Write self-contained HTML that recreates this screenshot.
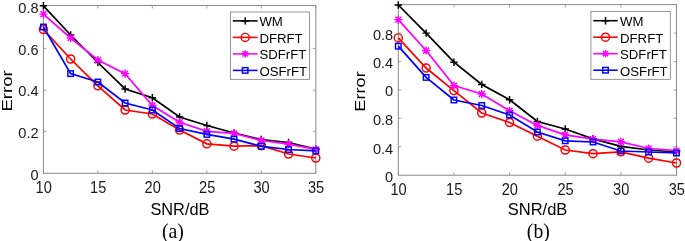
<!DOCTYPE html>
<html><head><meta charset="utf-8"><style>
html,body{margin:0;padding:0;background:#fff;}
body{width:685px;height:241px;overflow:hidden;}
svg{display:block;filter:blur(0.35px);}
.tk{font-family:"Liberation Sans", sans-serif;font-size:15.3px;fill:#1a1a1a;}
.tx{font-size:15.8px;}
.lg{font-family:"Liberation Sans", sans-serif;font-size:13.7px;fill:#000;}
.xl{font-family:"Liberation Sans", sans-serif;font-size:15px;fill:#000;}
.cap{font-family:"Liberation Serif", serif;font-size:19.8px;fill:#000;}
</style></head><body>
<svg width="685" height="241" viewBox="0 0 685 241">
<rect x="43.40" y="5.50" width="272.40" height="167.80" fill="none" stroke="#8a8a8a" stroke-width="1"/>
<path d="M43.40 173.30V170.40M43.40 5.50V8.40M97.88 173.30V170.40M97.88 5.50V8.40M152.36 173.30V170.40M152.36 5.50V8.40M206.84 173.30V170.40M206.84 5.50V8.40M261.32 173.30V170.40M261.32 5.50V8.40M315.80 173.30V170.40M315.80 5.50V8.40M43.40 48.40H46.30M315.80 48.40H312.90M43.40 90.20H46.30M315.80 90.20H312.90M43.40 131.60H46.30M315.80 131.60H312.90" stroke="#8a8a8a" stroke-width="0.8" fill="none"/>
<text x="38.60" y="13.30" text-anchor="end" class="tk" textLength="20.29" lengthAdjust="spacingAndGlyphs">0.8</text>
<text x="38.60" y="54.80" text-anchor="end" class="tk" textLength="20.29" lengthAdjust="spacingAndGlyphs">0.6</text>
<text x="38.60" y="96.30" text-anchor="end" class="tk" textLength="20.29" lengthAdjust="spacingAndGlyphs">0.4</text>
<text x="38.60" y="137.80" text-anchor="end" class="tk" textLength="20.29" lengthAdjust="spacingAndGlyphs">0.2</text>
<text x="38.60" y="179.50" text-anchor="end" class="tk" textLength="8.12" lengthAdjust="spacingAndGlyphs">0</text>
<text x="43.70" y="193.20" text-anchor="middle" class="tk tx" textLength="16.24" lengthAdjust="spacingAndGlyphs">10</text>
<text x="98.18" y="193.20" text-anchor="middle" class="tk tx" textLength="16.24" lengthAdjust="spacingAndGlyphs">15</text>
<text x="152.66" y="193.20" text-anchor="middle" class="tk tx" textLength="16.24" lengthAdjust="spacingAndGlyphs">20</text>
<text x="207.14" y="193.20" text-anchor="middle" class="tk tx" textLength="16.24" lengthAdjust="spacingAndGlyphs">25</text>
<text x="261.62" y="193.20" text-anchor="middle" class="tk tx" textLength="16.24" lengthAdjust="spacingAndGlyphs">30</text>
<text x="316.10" y="193.20" text-anchor="middle" class="tk tx" textLength="16.24" lengthAdjust="spacingAndGlyphs">35</text>
<polyline points="43.40,5.80 70.64,35.00 97.88,62.50 125.12,89.00 152.36,97.70 179.60,117.00 206.84,125.50 234.08,133.00 261.32,139.50 288.56,142.50 315.80,149.00" stroke="#000000" stroke-width="1.75" fill="none" stroke-linejoin="miter"/>
<path d="M39.70 5.80H47.10M43.40 2.10V9.50" stroke="#000000" stroke-width="1.45" fill="none"/>
<path d="M66.94 35.00H74.34M70.64 31.30V38.70" stroke="#000000" stroke-width="1.45" fill="none"/>
<path d="M94.18 62.50H101.58M97.88 58.80V66.20" stroke="#000000" stroke-width="1.45" fill="none"/>
<path d="M121.42 89.00H128.82M125.12 85.30V92.70" stroke="#000000" stroke-width="1.45" fill="none"/>
<path d="M148.66 97.70H156.06M152.36 94.00V101.40" stroke="#000000" stroke-width="1.45" fill="none"/>
<path d="M175.90 117.00H183.30M179.60 113.30V120.70" stroke="#000000" stroke-width="1.45" fill="none"/>
<path d="M203.14 125.50H210.54M206.84 121.80V129.20" stroke="#000000" stroke-width="1.45" fill="none"/>
<path d="M230.38 133.00H237.78M234.08 129.30V136.70" stroke="#000000" stroke-width="1.45" fill="none"/>
<path d="M257.62 139.50H265.02M261.32 135.80V143.20" stroke="#000000" stroke-width="1.45" fill="none"/>
<path d="M284.86 142.50H292.26M288.56 138.80V146.20" stroke="#000000" stroke-width="1.45" fill="none"/>
<path d="M312.10 149.00H319.50M315.80 145.30V152.70" stroke="#000000" stroke-width="1.45" fill="none"/>
<polyline points="43.40,29.50 70.64,59.00 97.88,85.80 125.12,110.00 152.36,114.00 179.60,130.00 206.84,143.80 234.08,146.20 261.32,145.60 288.56,154.00 315.80,158.00" stroke="#ff0000" stroke-width="1.75" fill="none" stroke-linejoin="miter"/>
<circle cx="43.40" cy="29.50" r="4.05" stroke="#ff0000" stroke-width="1.45" fill="none"/>
<circle cx="70.64" cy="59.00" r="4.05" stroke="#ff0000" stroke-width="1.45" fill="none"/>
<circle cx="97.88" cy="85.80" r="4.05" stroke="#ff0000" stroke-width="1.45" fill="none"/>
<circle cx="125.12" cy="110.00" r="4.05" stroke="#ff0000" stroke-width="1.45" fill="none"/>
<circle cx="152.36" cy="114.00" r="4.05" stroke="#ff0000" stroke-width="1.45" fill="none"/>
<circle cx="179.60" cy="130.00" r="4.05" stroke="#ff0000" stroke-width="1.45" fill="none"/>
<circle cx="206.84" cy="143.80" r="4.05" stroke="#ff0000" stroke-width="1.45" fill="none"/>
<circle cx="234.08" cy="146.20" r="4.05" stroke="#ff0000" stroke-width="1.45" fill="none"/>
<circle cx="261.32" cy="145.60" r="4.05" stroke="#ff0000" stroke-width="1.45" fill="none"/>
<circle cx="288.56" cy="154.00" r="4.05" stroke="#ff0000" stroke-width="1.45" fill="none"/>
<circle cx="315.80" cy="158.00" r="4.05" stroke="#ff0000" stroke-width="1.45" fill="none"/>
<polyline points="43.40,14.10 70.64,38.00 97.88,60.00 125.12,73.60 152.36,105.50 179.60,122.30 206.84,131.30 234.08,133.40 261.32,140.50 288.56,144.20 315.80,149.40" stroke="#ff00ff" stroke-width="1.75" fill="none" stroke-linejoin="miter"/>
<path d="M39.30 14.10H47.50M43.40 10.00V18.20M40.45 11.15L46.35 17.05M40.45 17.05L46.35 11.15" stroke="#ff00ff" stroke-width="1.45" fill="none"/>
<path d="M66.54 38.00H74.74M70.64 33.90V42.10M67.69 35.05L73.59 40.95M67.69 40.95L73.59 35.05" stroke="#ff00ff" stroke-width="1.45" fill="none"/>
<path d="M93.78 60.00H101.98M97.88 55.90V64.10M94.93 57.05L100.83 62.95M94.93 62.95L100.83 57.05" stroke="#ff00ff" stroke-width="1.45" fill="none"/>
<path d="M121.02 73.60H129.22M125.12 69.50V77.70M122.17 70.65L128.07 76.55M122.17 76.55L128.07 70.65" stroke="#ff00ff" stroke-width="1.45" fill="none"/>
<path d="M148.26 105.50H156.46M152.36 101.40V109.60M149.41 102.55L155.31 108.45M149.41 108.45L155.31 102.55" stroke="#ff00ff" stroke-width="1.45" fill="none"/>
<path d="M175.50 122.30H183.70M179.60 118.20V126.40M176.65 119.35L182.55 125.25M176.65 125.25L182.55 119.35" stroke="#ff00ff" stroke-width="1.45" fill="none"/>
<path d="M202.74 131.30H210.94M206.84 127.20V135.40M203.89 128.35L209.79 134.25M203.89 134.25L209.79 128.35" stroke="#ff00ff" stroke-width="1.45" fill="none"/>
<path d="M229.98 133.40H238.18M234.08 129.30V137.50M231.13 130.45L237.03 136.35M231.13 136.35L237.03 130.45" stroke="#ff00ff" stroke-width="1.45" fill="none"/>
<path d="M257.22 140.50H265.42M261.32 136.40V144.60M258.37 137.55L264.27 143.45M258.37 143.45L264.27 137.55" stroke="#ff00ff" stroke-width="1.45" fill="none"/>
<path d="M284.46 144.20H292.66M288.56 140.10V148.30M285.61 141.25L291.51 147.15M285.61 147.15L291.51 141.25" stroke="#ff00ff" stroke-width="1.45" fill="none"/>
<path d="M311.70 149.40H319.90M315.80 145.30V153.50M312.85 146.45L318.75 152.35M312.85 152.35L318.75 146.45" stroke="#ff00ff" stroke-width="1.45" fill="none"/>
<polyline points="43.40,27.00 70.64,73.60 97.88,82.00 125.12,103.00 152.36,110.00 179.60,128.50 206.84,134.40 234.08,139.20 261.32,146.30 288.56,149.50 315.80,150.80" stroke="#0000ff" stroke-width="1.75" fill="none" stroke-linejoin="miter"/>
<rect x="40.65" y="24.25" width="5.50" height="5.50" stroke="#0000ff" stroke-width="1.45" fill="none"/>
<rect x="67.89" y="70.85" width="5.50" height="5.50" stroke="#0000ff" stroke-width="1.45" fill="none"/>
<rect x="95.13" y="79.25" width="5.50" height="5.50" stroke="#0000ff" stroke-width="1.45" fill="none"/>
<rect x="122.37" y="100.25" width="5.50" height="5.50" stroke="#0000ff" stroke-width="1.45" fill="none"/>
<rect x="149.61" y="107.25" width="5.50" height="5.50" stroke="#0000ff" stroke-width="1.45" fill="none"/>
<rect x="176.85" y="125.75" width="5.50" height="5.50" stroke="#0000ff" stroke-width="1.45" fill="none"/>
<rect x="204.09" y="131.65" width="5.50" height="5.50" stroke="#0000ff" stroke-width="1.45" fill="none"/>
<rect x="231.33" y="136.45" width="5.50" height="5.50" stroke="#0000ff" stroke-width="1.45" fill="none"/>
<rect x="258.57" y="143.55" width="5.50" height="5.50" stroke="#0000ff" stroke-width="1.45" fill="none"/>
<rect x="285.81" y="146.75" width="5.50" height="5.50" stroke="#0000ff" stroke-width="1.45" fill="none"/>
<rect x="313.05" y="148.05" width="5.50" height="5.50" stroke="#0000ff" stroke-width="1.45" fill="none"/>
<rect x="230.50" y="12.00" width="79.00" height="67.35" fill="#fff" stroke="#8a8a8a" stroke-width="0.9"/>
<path d="M232.80 20.90H257.60" stroke="#000000" stroke-width="1.55"/>
<path d="M241.50 20.90H248.90M245.20 17.20V24.60" stroke="#000000" stroke-width="1.45" fill="none"/>
<text x="259.40" y="26.35" class="lg" textLength="23.46" lengthAdjust="spacingAndGlyphs">WM</text>
<path d="M232.80 37.40H257.60" stroke="#ff0000" stroke-width="1.55"/>
<circle cx="245.20" cy="37.40" r="4.05" stroke="#ff0000" stroke-width="1.45" fill="none"/>
<text x="259.40" y="42.85" class="lg" textLength="43.26" lengthAdjust="spacingAndGlyphs">DFRFT</text>
<path d="M232.80 53.90H257.60" stroke="#ff00ff" stroke-width="1.55"/>
<path d="M241.59 53.90H248.81M245.20 50.29V57.51M242.60 51.30L247.80 56.50M242.60 56.50L247.80 51.30" stroke="#ff00ff" stroke-width="1.45" fill="none"/>
<text x="259.40" y="59.45" class="lg" textLength="46.93" lengthAdjust="spacingAndGlyphs">SDFrFT</text>
<path d="M232.80 70.40H257.60" stroke="#0000ff" stroke-width="1.55"/>
<rect x="242.45" y="67.65" width="5.50" height="5.50" stroke="#0000ff" stroke-width="1.45" fill="none"/>
<text x="259.40" y="76.05" class="lg" textLength="47.67" lengthAdjust="spacingAndGlyphs">OSFrFT</text>
<rect x="398.30" y="4.60" width="278.20" height="170.60" fill="none" stroke="#8a8a8a" stroke-width="1"/>
<path d="M398.30 175.20V172.30M398.30 4.60V7.50M453.94 175.20V172.30M453.94 4.60V7.50M509.58 175.20V172.30M509.58 4.60V7.50M565.22 175.20V172.30M565.22 4.60V7.50M620.86 175.20V172.30M620.86 4.60V7.50M676.50 175.20V172.30M676.50 4.60V7.50M398.30 33.10H401.20M676.50 33.10H673.60M398.30 61.50H401.20M676.50 61.50H673.60M398.30 89.90H401.20M676.50 89.90H673.60M398.30 118.30H401.20M676.50 118.30H673.60M398.30 146.70H401.20M676.50 146.70H673.60" stroke="#8a8a8a" stroke-width="0.8" fill="none"/>
<text x="393.20" y="39.80" text-anchor="end" class="tk" textLength="20.29" lengthAdjust="spacingAndGlyphs">0.8</text>
<text x="393.20" y="68.20" text-anchor="end" class="tk" textLength="20.29" lengthAdjust="spacingAndGlyphs">0.4</text>
<text x="393.20" y="96.40" text-anchor="end" class="tk" textLength="8.12" lengthAdjust="spacingAndGlyphs">0</text>
<text x="393.20" y="125.00" text-anchor="end" class="tk" textLength="20.29" lengthAdjust="spacingAndGlyphs">0.8</text>
<text x="393.20" y="153.60" text-anchor="end" class="tk" textLength="20.29" lengthAdjust="spacingAndGlyphs">0.4</text>
<text x="393.20" y="181.60" text-anchor="end" class="tk" textLength="8.12" lengthAdjust="spacingAndGlyphs">0</text>
<text x="398.60" y="194.90" text-anchor="middle" class="tk tx" textLength="16.24" lengthAdjust="spacingAndGlyphs">10</text>
<text x="454.24" y="194.90" text-anchor="middle" class="tk tx" textLength="16.24" lengthAdjust="spacingAndGlyphs">15</text>
<text x="509.88" y="194.90" text-anchor="middle" class="tk tx" textLength="16.24" lengthAdjust="spacingAndGlyphs">20</text>
<text x="565.52" y="194.90" text-anchor="middle" class="tk tx" textLength="16.24" lengthAdjust="spacingAndGlyphs">25</text>
<text x="621.16" y="194.90" text-anchor="middle" class="tk tx" textLength="16.24" lengthAdjust="spacingAndGlyphs">30</text>
<text x="676.80" y="194.90" text-anchor="middle" class="tk tx" textLength="16.24" lengthAdjust="spacingAndGlyphs">35</text>
<polyline points="398.30,5.00 426.12,33.10 453.94,62.20 481.76,84.40 509.58,99.70 537.40,121.50 565.22,129.00 593.04,138.80 620.86,146.30 648.68,150.00 676.50,152.00" stroke="#000000" stroke-width="1.75" fill="none" stroke-linejoin="miter"/>
<path d="M394.60 5.00H402.00M398.30 1.30V8.70" stroke="#000000" stroke-width="1.45" fill="none"/>
<path d="M422.42 33.10H429.82M426.12 29.40V36.80" stroke="#000000" stroke-width="1.45" fill="none"/>
<path d="M450.24 62.20H457.64M453.94 58.50V65.90" stroke="#000000" stroke-width="1.45" fill="none"/>
<path d="M478.06 84.40H485.46M481.76 80.70V88.10" stroke="#000000" stroke-width="1.45" fill="none"/>
<path d="M505.88 99.70H513.28M509.58 96.00V103.40" stroke="#000000" stroke-width="1.45" fill="none"/>
<path d="M533.70 121.50H541.10M537.40 117.80V125.20" stroke="#000000" stroke-width="1.45" fill="none"/>
<path d="M561.52 129.00H568.92M565.22 125.30V132.70" stroke="#000000" stroke-width="1.45" fill="none"/>
<path d="M589.34 138.80H596.74M593.04 135.10V142.50" stroke="#000000" stroke-width="1.45" fill="none"/>
<path d="M617.16 146.30H624.56M620.86 142.60V150.00" stroke="#000000" stroke-width="1.45" fill="none"/>
<path d="M644.98 150.00H652.38M648.68 146.30V153.70" stroke="#000000" stroke-width="1.45" fill="none"/>
<path d="M672.80 152.00H680.20M676.50 148.30V155.70" stroke="#000000" stroke-width="1.45" fill="none"/>
<polyline points="398.30,37.90 426.12,68.00 453.94,90.60 481.76,113.00 509.58,122.50 537.40,136.20 565.22,150.00 593.04,153.70 620.86,151.80 648.68,158.20 676.50,163.00" stroke="#ff0000" stroke-width="1.75" fill="none" stroke-linejoin="miter"/>
<circle cx="398.30" cy="37.90" r="4.05" stroke="#ff0000" stroke-width="1.45" fill="none"/>
<circle cx="426.12" cy="68.00" r="4.05" stroke="#ff0000" stroke-width="1.45" fill="none"/>
<circle cx="453.94" cy="90.60" r="4.05" stroke="#ff0000" stroke-width="1.45" fill="none"/>
<circle cx="481.76" cy="113.00" r="4.05" stroke="#ff0000" stroke-width="1.45" fill="none"/>
<circle cx="509.58" cy="122.50" r="4.05" stroke="#ff0000" stroke-width="1.45" fill="none"/>
<circle cx="537.40" cy="136.20" r="4.05" stroke="#ff0000" stroke-width="1.45" fill="none"/>
<circle cx="565.22" cy="150.00" r="4.05" stroke="#ff0000" stroke-width="1.45" fill="none"/>
<circle cx="593.04" cy="153.70" r="4.05" stroke="#ff0000" stroke-width="1.45" fill="none"/>
<circle cx="620.86" cy="151.80" r="4.05" stroke="#ff0000" stroke-width="1.45" fill="none"/>
<circle cx="648.68" cy="158.20" r="4.05" stroke="#ff0000" stroke-width="1.45" fill="none"/>
<circle cx="676.50" cy="163.00" r="4.05" stroke="#ff0000" stroke-width="1.45" fill="none"/>
<polyline points="398.30,19.60 426.12,50.50 453.94,85.60 481.76,94.00 509.58,110.80 537.40,125.40 565.22,134.80 593.04,139.20 620.86,141.80 648.68,148.50 676.50,150.60" stroke="#ff00ff" stroke-width="1.75" fill="none" stroke-linejoin="miter"/>
<path d="M394.20 19.60H402.40M398.30 15.50V23.70M395.35 16.65L401.25 22.55M395.35 22.55L401.25 16.65" stroke="#ff00ff" stroke-width="1.45" fill="none"/>
<path d="M422.02 50.50H430.22M426.12 46.40V54.60M423.17 47.55L429.07 53.45M423.17 53.45L429.07 47.55" stroke="#ff00ff" stroke-width="1.45" fill="none"/>
<path d="M449.84 85.60H458.04M453.94 81.50V89.70M450.99 82.65L456.89 88.55M450.99 88.55L456.89 82.65" stroke="#ff00ff" stroke-width="1.45" fill="none"/>
<path d="M477.66 94.00H485.86M481.76 89.90V98.10M478.81 91.05L484.71 96.95M478.81 96.95L484.71 91.05" stroke="#ff00ff" stroke-width="1.45" fill="none"/>
<path d="M505.48 110.80H513.68M509.58 106.70V114.90M506.63 107.85L512.53 113.75M506.63 113.75L512.53 107.85" stroke="#ff00ff" stroke-width="1.45" fill="none"/>
<path d="M533.30 125.40H541.50M537.40 121.30V129.50M534.45 122.45L540.35 128.35M534.45 128.35L540.35 122.45" stroke="#ff00ff" stroke-width="1.45" fill="none"/>
<path d="M561.12 134.80H569.32M565.22 130.70V138.90M562.27 131.85L568.17 137.75M562.27 137.75L568.17 131.85" stroke="#ff00ff" stroke-width="1.45" fill="none"/>
<path d="M588.94 139.20H597.14M593.04 135.10V143.30M590.09 136.25L595.99 142.15M590.09 142.15L595.99 136.25" stroke="#ff00ff" stroke-width="1.45" fill="none"/>
<path d="M616.76 141.80H624.96M620.86 137.70V145.90M617.91 138.85L623.81 144.75M617.91 144.75L623.81 138.85" stroke="#ff00ff" stroke-width="1.45" fill="none"/>
<path d="M644.58 148.50H652.78M648.68 144.40V152.60M645.73 145.55L651.63 151.45M645.73 151.45L651.63 145.55" stroke="#ff00ff" stroke-width="1.45" fill="none"/>
<path d="M672.40 150.60H680.60M676.50 146.50V154.70M673.55 147.65L679.45 153.55M673.55 153.55L679.45 147.65" stroke="#ff00ff" stroke-width="1.45" fill="none"/>
<polyline points="398.30,46.20 426.12,77.40 453.94,100.00 481.76,105.50 509.58,115.00 537.40,132.00 565.22,140.80 593.04,142.00 620.86,151.00 648.68,152.00 676.50,153.00" stroke="#0000ff" stroke-width="1.75" fill="none" stroke-linejoin="miter"/>
<rect x="395.55" y="43.45" width="5.50" height="5.50" stroke="#0000ff" stroke-width="1.45" fill="none"/>
<rect x="423.37" y="74.65" width="5.50" height="5.50" stroke="#0000ff" stroke-width="1.45" fill="none"/>
<rect x="451.19" y="97.25" width="5.50" height="5.50" stroke="#0000ff" stroke-width="1.45" fill="none"/>
<rect x="479.01" y="102.75" width="5.50" height="5.50" stroke="#0000ff" stroke-width="1.45" fill="none"/>
<rect x="506.83" y="112.25" width="5.50" height="5.50" stroke="#0000ff" stroke-width="1.45" fill="none"/>
<rect x="534.65" y="129.25" width="5.50" height="5.50" stroke="#0000ff" stroke-width="1.45" fill="none"/>
<rect x="562.47" y="138.05" width="5.50" height="5.50" stroke="#0000ff" stroke-width="1.45" fill="none"/>
<rect x="590.29" y="139.25" width="5.50" height="5.50" stroke="#0000ff" stroke-width="1.45" fill="none"/>
<rect x="618.11" y="148.25" width="5.50" height="5.50" stroke="#0000ff" stroke-width="1.45" fill="none"/>
<rect x="645.93" y="149.25" width="5.50" height="5.50" stroke="#0000ff" stroke-width="1.45" fill="none"/>
<rect x="673.75" y="150.25" width="5.50" height="5.50" stroke="#0000ff" stroke-width="1.45" fill="none"/>
<rect x="590.90" y="11.40" width="79.40" height="67.95" fill="#fff" stroke="#8a8a8a" stroke-width="0.9"/>
<path d="M593.30 20.70H617.70" stroke="#000000" stroke-width="1.55"/>
<path d="M601.80 20.70H609.20M605.50 17.00V24.40" stroke="#000000" stroke-width="1.45" fill="none"/>
<text x="620.00" y="26.35" class="lg" textLength="23.46" lengthAdjust="spacingAndGlyphs">WM</text>
<path d="M593.30 37.20H617.70" stroke="#ff0000" stroke-width="1.55"/>
<circle cx="605.50" cy="37.20" r="4.05" stroke="#ff0000" stroke-width="1.45" fill="none"/>
<text x="620.00" y="42.65" class="lg" textLength="43.26" lengthAdjust="spacingAndGlyphs">DFRFT</text>
<path d="M593.30 53.70H617.70" stroke="#ff00ff" stroke-width="1.55"/>
<path d="M601.89 53.70H609.11M605.50 50.09V57.31M602.90 51.10L608.10 56.30M602.90 56.30L608.10 51.10" stroke="#ff00ff" stroke-width="1.45" fill="none"/>
<text x="620.00" y="59.25" class="lg" textLength="46.93" lengthAdjust="spacingAndGlyphs">SDFrFT</text>
<path d="M593.30 70.20H617.70" stroke="#0000ff" stroke-width="1.55"/>
<rect x="602.75" y="67.45" width="5.50" height="5.50" stroke="#0000ff" stroke-width="1.45" fill="none"/>
<text x="620.00" y="75.85" class="lg" textLength="47.67" lengthAdjust="spacingAndGlyphs">OSFrFT</text>
<text x="179.95" y="214.5" text-anchor="middle" class="xl" style="font-size:16.2px" textLength="59.0" lengthAdjust="spacingAndGlyphs">SNR/dB</text>
<text x="537.55" y="214.8" text-anchor="middle" class="xl" style="font-size:16.2px" textLength="59.6" lengthAdjust="spacingAndGlyphs">SNR/dB</text>
<text transform="translate(11.9 90.9) rotate(-90)" text-anchor="middle" class="xl" style="font-size:15.5px" textLength="41.4" lengthAdjust="spacingAndGlyphs">Error</text>
<text transform="translate(365.0 91.5) rotate(-90)" text-anchor="middle" class="xl" style="font-size:15.5px" textLength="40.4" lengthAdjust="spacingAndGlyphs">Error</text>
<text transform="translate(172.9 237.8) scale(1 1.025)" text-anchor="middle" class="cap">(a)</text>
<text transform="translate(538.4 237.8) scale(1 1.025)" text-anchor="middle" class="cap">(b)</text>
</svg>
</body></html>
